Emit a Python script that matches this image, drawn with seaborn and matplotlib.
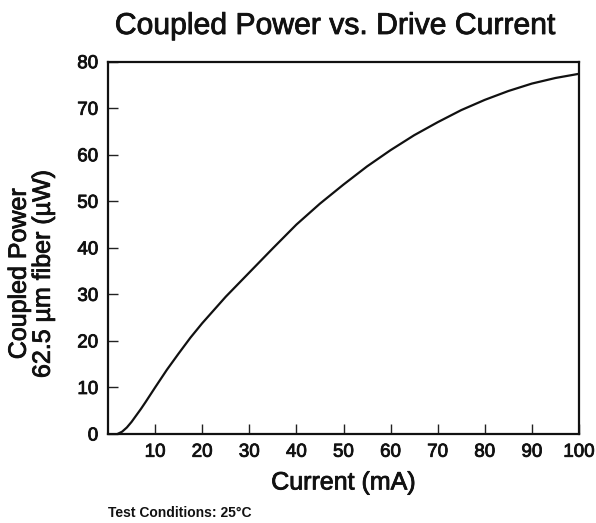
import matplotlib
matplotlib.use("Agg")
import matplotlib.pyplot as plt
import matplotlib.patheffects as pe
import seaborn as sns
import pandas as pd

current_ma = [2, 3, 4, 5, 6, 7, 8, 10, 12.5, 15, 17.5, 20, 25, 30, 35, 40, 45, 50, 55, 60, 65, 70, 75, 80, 85, 90, 95, 100]
power_uw = [0.0, 0.5, 1.4, 2.6, 4.0, 5.4, 6.9, 10.0, 13.8, 17.3, 20.7, 23.8, 29.5, 34.7, 39.9, 45.0, 49.5, 53.6, 57.5, 61.0, 64.2, 67.0, 69.6, 71.8, 73.7, 75.3, 76.5, 77.4]

x_ticks = [10, 20, 30, 40, 50, 60, 70, 80, 90, 100]
y_ticks = [0, 10, 20, 30, 40, 50, 60, 70, 80]

title = "Coupled Power vs. Drive Current"
x_label = "Current (mA)"
y_label = "Coupled Power\n62.5 µm fiber (µW)"
footer = "Test Conditions: 25°C"

df = pd.DataFrame({"current": current_ma, "power": power_uw})

sns.set_style("white")
plt.rcParams["font.family"] = ["Liberation Sans", "DejaVu Sans"]

ink = "#111111"
thick = [pe.withStroke(linewidth=0.6, foreground=ink)]

fig = plt.figure(figsize=(5.96, 5.23), dpi=100)
ax = fig.add_axes([108 / 596, 1 - 434 / 523, (579 - 108) / 596, (434 - 61.7) / 523])

sns.lineplot(data=df, x="current", y="power", ax=ax, color=ink, linewidth=1.6)

ax.set_xlim(0, 100)
ax.set_ylim(0, 80)
ax.set_xticks(x_ticks)
ax.set_yticks(y_ticks)
ax.tick_params(axis="both", which="major", bottom=True, left=True, top=False, right=False,
               direction="in", length=7, width=1.0, color="#222222",
               labelsize=13.5, pad=7, labelcolor=ink)
for lbl in ax.get_xticklabels() + ax.get_yticklabels():
    lbl.set_path_effects(thick)
for s in ax.spines.values():
    s.set_visible(True)
    s.set_linewidth(1.6)
    s.set_color(ink)

xl = ax.set_xlabel(x_label, fontsize=18, color=ink, labelpad=7)
yl = ax.set_ylabel(y_label, fontsize=18, color=ink, linespacing=1.0)
xl.set_path_effects(thick)
yl.set_path_effects(thick)
ax.yaxis.set_label_coords(-0.113, 0.43)

t = fig.text(335 / 596, 1 - 26 / 523, title, ha="center", va="center", fontsize=21.7, color=ink)
t.set_path_effects(thick)
fig.text(108 / 596, 1 - 513 / 523, footer, ha="left", va="center", fontsize=10, fontweight="bold", color=ink)

fig.savefig("out.png", dpi=100, facecolor="white")
